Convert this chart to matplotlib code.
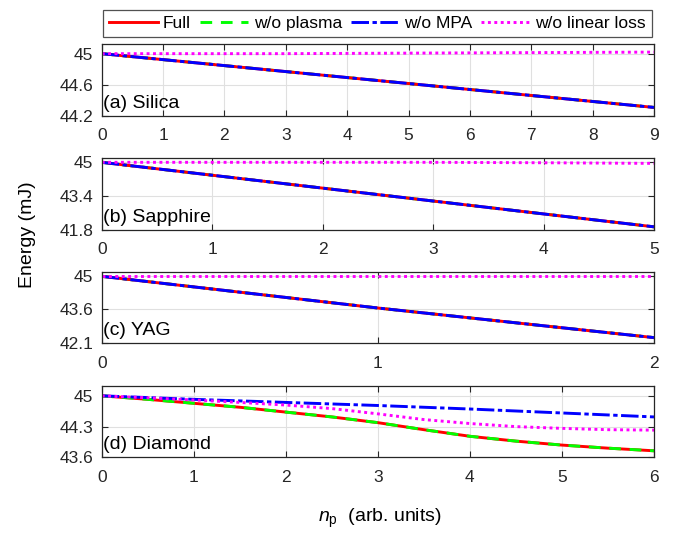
import numpy as np
import matplotlib
matplotlib.use('Agg')
import matplotlib.pyplot as plt

plt.rcParams['font.family'] = ['Liberation Sans', 'DejaVu Sans']
plt.rcParams['mathtext.fontset'] = 'custom'
plt.rcParams['mathtext.it'] = 'Liberation Sans:italic'
plt.rcParams['mathtext.rm'] = 'Liberation Sans'

# energy vs propagation, one panel per material
silica_x = [0, 3, 6, 9]
silica_full = [45.0, 44.77, 44.54, 44.31]
silica_noloss = [45.0, 45.0, 45.01, 45.02]

sapphire_x = [0, 1, 2, 3, 4, 5]
sapphire_full = [45.0, 44.39, 43.78, 43.17, 42.56, 41.95]
sapphire_noloss = [45.0, 45.0, 45.0, 45.0, 44.98, 44.95]

yag_x = [0, 1, 2]
yag_full = [45.0, 43.63, 42.35]
yag_noloss = [45.0, 45.0, 45.0]

diamond_x = [0, 0.5, 1, 1.5, 2, 2.5, 3, 3.5, 4, 4.5, 5, 5.5, 6]
diamond_full = [45.0, 44.92, 44.83, 44.74, 44.63, 44.52, 44.39, 44.23,
                44.08, 43.97, 43.88, 43.81, 43.75]
diamond_nompa = [45.0, 44.96, 44.92, 44.885, 44.85, 44.815, 44.78, 44.74,
                 44.70, 44.655, 44.61, 44.565, 44.52]
diamond_noloss = [45.0, 44.955, 44.905, 44.85, 44.79, 44.71, 44.59, 44.46,
                  44.37, 44.30, 44.26, 44.23, 44.22]

panels = [
    dict(name='(a) Silica', x=silica_x, full=silica_full, noplasma=silica_full,
         nompa=silica_full, noloss=silica_noloss, xmax=9,
         yticks=[44.2, 44.6, 45], ylim=(44.2, 45.12)),
    dict(name='(b) Sapphire', x=sapphire_x, full=sapphire_full, noplasma=sapphire_full,
         nompa=sapphire_full, noloss=sapphire_noloss, xmax=5,
         yticks=[41.8, 43.4, 45], ylim=(41.8, 45.19)),
    dict(name='(c) YAG', x=yag_x, full=yag_full, noplasma=yag_full,
         nompa=yag_full, noloss=yag_noloss, xmax=2,
         yticks=[42.1, 43.6, 45], ylim=(42.1, 45.2)),
    dict(name='(d) Diamond', x=diamond_x, full=diamond_full, noplasma=diamond_full,
         nompa=diamond_nompa, noloss=diamond_noloss, xmax=6,
         yticks=[43.6, 44.3, 45], ylim=(43.6, 45.23)),
]

fig = plt.figure(figsize=(6.79, 5.37), dpi=100)
W, H = 679., 537.
left, right = 101.7, 654.
tops = [44.3, 158.3, 271.7, 385.7]
ax_h = 71.7
dark = (0.15, 0.15, 0.15)
lw = 2.1

for p, top in zip(panels, tops):
    ax = fig.add_axes([left / W, 1 - (top + ax_h) / H, (right - left) / W, ax_h / H])
    # where the curves coincide the plasma curve sits under the full one
    same = p['noplasma'] is p['nompa']
    l1, = ax.plot(p['x'], p['full'], color='red', lw=lw, ls='-', label='Full', zorder=2)
    l2, = ax.plot(p['x'], p['noplasma'], color=(0, 1, 0), lw=lw, ls=(0, (4, 3)),
                  label='w/o plasma', zorder=1.9 if same else 2.1)
    l3, = ax.plot(p['x'], p['nompa'], color='blue', lw=lw, ls=(0, (6, 1.2, 1.5, 1.2)),
                  label='w/o MPA', zorder=2.2)
    l4, = ax.plot(p['x'], p['noloss'], color='magenta', lw=lw, ls=(0, (1, 1.2)),
                  label='w/o linear loss', zorder=2.3)
    ax.set_xlim(0, p['xmax'])
    ax.set_xticks(np.arange(0, p['xmax'] + 1))
    ax.set_ylim(*p['ylim'])
    ax.set_yticks(p['yticks'])
    ax.set_yticklabels(['%g' % v for v in p['yticks']])
    ax.grid(True, color=(0.88, 0.88, 0.88), lw=0.8)
    ax.set_axisbelow(True)
    ax.tick_params(direction='in', length=4, width=0.8, color=dark, labelcolor=dark,
                   labelsize=12.5, top=True, right=True)
    ax.tick_params(axis='x', pad=9)
    ax.tick_params(axis='y', pad=6)
    for s in ax.spines.values():
        s.set_color(dark)
        s.set_linewidth(0.9)
    ax.text(0.003, 0.06, p['name'], transform=ax.transAxes, fontsize=14,
            color='black', ha='left', va='bottom')

leg = fig.legend(handles=[l1, l2, l3, l4], loc='center',
                 bbox_to_anchor=(377.5 / W, 1 - 23.7 / H), ncol=4, fontsize=12.5,
                 handlelength=2.8, handletextpad=0.3, columnspacing=0.5,
                 frameon=True, fancybox=False, borderpad=0.35, borderaxespad=0)
leg.get_frame().set_edgecolor(dark)
leg.get_frame().set_linewidth(0.9)

fig.text(28 / W, 1 - 235 / H, 'Energy (mJ)', rotation=90, ha='center', va='center',
         fontsize=14, color='black')
fig.text(380 / W, 1 - 518 / H, r'$n_\mathrm{p}$  (arb. units)', ha='center', va='center',
         fontsize=14, color='black')

fig.savefig('out.png', dpi=100)
